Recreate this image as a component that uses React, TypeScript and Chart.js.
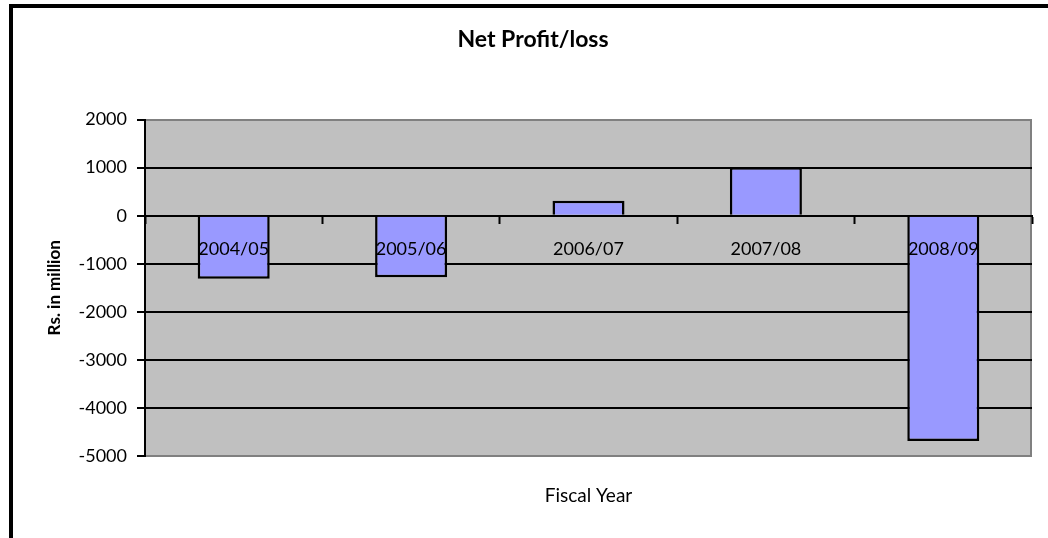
import React, { useEffect, useRef } from "react";
import { Chart, registerables } from "chart.js";

Chart.register(...registerables);

const categories = ["2004/05", "2005/06", "2006/07", "2007/08", "2008/09"];
const netProfit = [-1310, -1280, 310, 1010, -4690];
const yMin = -5000;
const yMax = 2000;
const yStep = 1000;

const chartTitle = "Net Profit/loss";
const yTitle = "Rs. in million";
const xTitle = "Fiscal Year";

const FONT = "Lato";

const backgroundPlugin = {
  id: "excelBackground",
  beforeDraw(chart: any) {
    const { ctx, chartArea, width, height } = chart;
    ctx.save();
    ctx.fillStyle = "#ffffff";
    ctx.fillRect(0, 0, width, height);
    // outer chart border (left + top visible)
    ctx.fillStyle = "#000000";
    ctx.fillRect(9, 4, 4, height);
    ctx.fillRect(9, 4, width, 4);
    // plot area
    ctx.fillStyle = "#C0C0C0";
    ctx.fillRect(chartArea.left, chartArea.top, chartArea.right - chartArea.left, chartArea.bottom - chartArea.top);
    ctx.strokeStyle = "#808080";
    ctx.lineWidth = 2;
    ctx.beginPath();
    ctx.moveTo(chartArea.right - 1, chartArea.top);
    ctx.lineTo(chartArea.right - 1, chartArea.bottom);
    ctx.stroke();
    ctx.restore();
  },
};

export default function App() {
  const canvasRef = useRef<HTMLCanvasElement | null>(null);

  useEffect(() => {
    if (!canvasRef.current) return;
    const chart = new Chart(canvasRef.current, {
      type: "bar",
      data: {
        labels: categories,
        datasets: [
          {
            label: chartTitle,
            data: netProfit,
            backgroundColor: "#9999FF",
            borderColor: "#000000",
            borderWidth: 2.5,
            barPercentage: 0.406,
            categoryPercentage: 1,
          },
        ],
      },
      options: {
        responsive: false,
        animation: false,
        layout: { padding: { left: 34, right: 16, top: 0, bottom: 0 } },
        plugins: {
          legend: { display: false },
          tooltip: { enabled: false },
          title: {
            display: true,
            text: chartTitle,
            color: "#000000",
            font: { family: FONT, size: 23, weight: "bold" },
            padding: { top: 26, bottom: 66 },
          },
        },
        scales: {
          x: {
            type: "category",
            position: "bottom",
            offset: true,
            grid: { display: false },
            border: { display: false },
            ticks: { display: false },
            title: {
              display: true,
              text: xTitle,
              color: "#000000",
              font: { family: FONT, size: 19 },
              padding: { top: 0, bottom: 31 },
            },
            afterFit: (s: any) => {
              s.height = 82;
            },
          },
          x2: {
            type: "category",
            position: { y: 0 } as any,
            offset: true,
            grid: {
              display: true,
              drawOnChartArea: false,
              drawTicks: true,
              tickLength: 7,
              tickWidth: 2,
              tickColor: "#000000",
              offset: true,
            },
            border: { display: true, color: "#000000", width: 2 },
            ticks: {
              z: 1,
              color: "#000000",
              font: { family: FONT, size: 18 },
              padding: 16,
              maxRotation: 0,
              autoSkip: false,
            },
            afterFit: (s: any) => {
              s.height = 0;
            },
          },
          y: {
            type: "linear",
            position: "left",
            min: yMin,
            max: yMax,
            grid: {
              color: (c: any) =>
                c.tick && (c.tick.value === yMax || c.tick.value === yMin) ? "#808080" : "#000000",
              lineWidth: 2,
              tickColor: "#000000",
              tickLength: 8,
              tickWidth: 2,
            },
            border: { display: true, color: "#000000", width: 2 },
            ticks: {
              stepSize: yStep,
              color: "#000000",
              font: { family: FONT, size: 18 },
              padding: 10,
              callback: (v: any) => String(v),
            },
            title: {
              display: true,
              text: yTitle,
              color: "#000000",
              font: { family: FONT, size: 17, weight: "bold" },
              padding: { top: 10, bottom: 0 },
            },
            afterFit: (s: any) => {
              s.width = 111;
            },
          },
        },
      },
      plugins: [backgroundPlugin],
    });
    return () => chart.destroy();
  }, []);

  return (
    <div style={{ position: "fixed", left: 0, top: 0, width: 1048, height: 538 }}>
      <canvas ref={canvasRef} width={1048} height={538} style={{ width: 1048, height: 538 }} />
    </div>
  );
}
